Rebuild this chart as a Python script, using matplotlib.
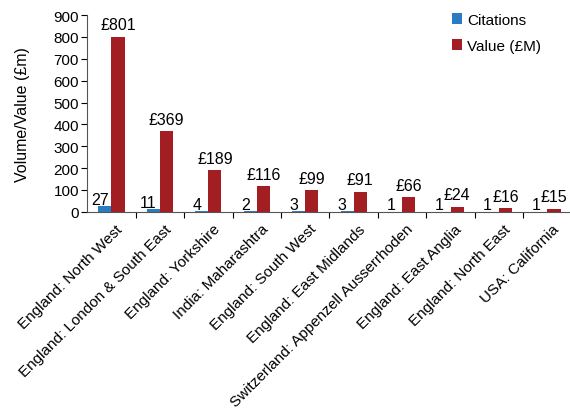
import matplotlib
matplotlib.use("Agg")
import matplotlib.pyplot as plt
import numpy as np
from matplotlib.transforms import offset_copy

plt.rcParams['font.family'] = ['Liberation Sans', 'DejaVu Sans']

regions = ['England: North West', 'England: London & South East', 'England: Yorkshire',
           'India: Maharashtra', 'England: South West', 'England: East Midlands',
           'Switzerland: Appenzell Ausserrhoden', 'England: East Anglia',
           'England: North East', 'USA: California']
citations = [27, 11, 4, 2, 3, 3, 1, 1, 1, 1]
value_m = [801, 369, 189, 116, 99, 91, 66, 24, 16, 15]

blue = '#2a7cc2'
red = '#a31e23'

fig = plt.figure(figsize=(5.7, 4.14), dpi=100)
ax = fig.add_axes([0.153, 0.486, 0.85, 0.475])

x = np.arange(len(regions))
w = 0.27
ax.bar(x - w / 2, citations, w, color=blue, label='Citations')
ax.bar(x + w / 2, value_m, w, color=red, label='Value (£M)')

lab_c = offset_copy(ax.transData, fig=fig, x=-3.5, y=1.5, units='points')
lab_v = offset_copy(ax.transData, fig=fig, x=0, y=5.5, units='points')
for i in range(len(regions)):
    ax.text(x[i] - w / 2, citations[i], str(citations[i]), transform=lab_c,
            ha='center', va='baseline', fontsize=11.5)
    ax.text(x[i] + w / 2, value_m[i], '£%d' % value_m[i], transform=lab_v,
            ha='center', va='baseline', fontsize=11.5)

ax.set_xlim(-0.5, len(regions) - 0.5)
ax.set_ylim(0, 900)
ax.set_yticks(range(0, 901, 100))
ax.tick_params(axis='y', labelsize=11, length=4, width=0.8, pad=2)

# ticks sit between categories, labels under centres
ax.set_xticks(x[:-1] + 0.5, minor=False)
ax.set_xticklabels([])
ax.tick_params(axis='x', length=4, width=0.8, direction='out')
lab_t = offset_copy(ax.get_xaxis_transform(), fig=fig, x=3, y=-7, units='points')
for i, r in enumerate(regions):
    ax.text(x[i], 0, r, transform=lab_t, rotation=45, rotation_mode='anchor',
            ha='right', va='top', fontsize=11)

ax.spines['top'].set_visible(False)
ax.spines['right'].set_visible(False)
ax.spines['left'].set_color('#555555')
ax.spines['bottom'].set_color('#555555')

ax.set_ylabel('Volume/Value (£m)', fontsize=11.5, labelpad=17)

ax.legend(loc='upper right', bbox_to_anchor=(0.965, 1.08), frameon=False, fontsize=11,
          handlelength=0.7, handleheight=0.7, handletextpad=0.3, labelspacing=0.75)

fig.savefig('out.png', dpi=100)
